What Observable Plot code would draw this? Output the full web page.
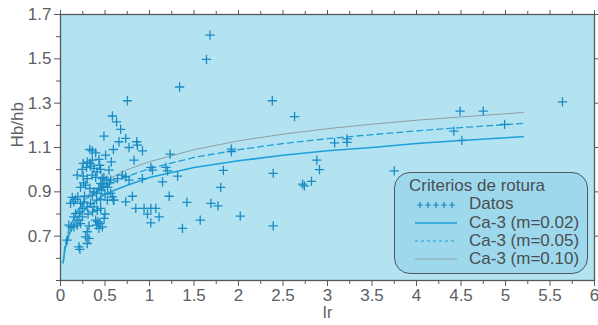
<!DOCTYPE html>
<html>
<head>
<meta charset="utf-8">
<script src="https://cdn.jsdelivr.net/npm/d3@7"></script>
<script src="https://cdn.jsdelivr.net/npm/@observablehq/plot@0.6"></script>
<style>
  html, body { margin: 0; padding: 0; background: #ffffff; }
  #wrap { position: relative; width: 598px; height: 325px; font-family: "Liberation Sans", Arial, sans-serif; }
  #legend {
    position: absolute; left: 394px; top: 172px; width: 194px; height: 102px;
    box-sizing: border-box; border: 1.3px solid #50595d; border-radius: 16px;
    background: #9dd8ec; color: #4a4f52; font-size: 17px; line-height: 18px;
  }
  #legend .title { position: absolute; left: 14px; top: 4px; }
  #legend .row { position: absolute; left: 74px; }
  #legend svg { position: absolute; left: 20px; }
</style>
</head>
<body>
<div id="wrap">
  <div id="chart"></div>
  <div id="legend">
    <div class="title">Criterios de rotura</div>
    <svg style="top:26px" width="44" height="12"><g stroke="#1a8cc4" stroke-width="1.2">
      <path d="M2,6h6M5,3v6M10,6h6M13,3v6M18,6h6M21,3v6M26,6h6M29,3v6M34,6h6M37,3v6"/></g></svg>
    <div class="row" style="top:22px">Datos</div>
    <svg style="top:44px" width="44" height="12"><line x1="0" x2="42" y1="6" y2="6" stroke="#1ea0d8" stroke-width="1.5"/></svg>
    <div class="row" style="top:41px">Ca-3 (m=0.02)</div>
    <svg style="top:62px" width="44" height="12"><line x1="0" x2="42" y1="6" y2="6" stroke="#1ea0d8" stroke-width="1.2" stroke-dasharray="3,3"/></svg>
    <div class="row" style="top:59px">Ca-3 (m=0.05)</div>
    <svg style="top:80px" width="44" height="12"><line x1="0" x2="42" y1="6" y2="6" stroke="#8f9ea4" stroke-width="1"/></svg>
    <div class="row" style="top:77px">Ca-3 (m=0.10)</div>
  </div>
</div>
<script>
// Tick values
const xTicks = [0, 0.5, 1, 1.5, 2, 2.5, 3, 3.5, 4, 4.5, 5, 5.5, 6];
const xMinorTicks = [0.25, 0.75, 1.25, 1.75, 2.25, 2.75, 3.25, 3.75, 4.25, 4.75, 5.25, 5.75];
const yTicks = [0.7, 0.9, 1.1, 1.3, 1.5, 1.7];
const yMinorTicks = [0.5, 0.6, 0.8, 1.0, 1.2, 1.4, 1.6];

// Curves Ca-3
const curveIr = [0.03, 0.05, 0.1, 0.2, 0.3, 0.5, 0.75, 1, 1.5, 2, 2.5, 3, 3.5, 4, 4.5, 5, 5.2];
const caM002 = [0.58, 0.64, 0.71, 0.79, 0.83, 0.89, 0.93, 0.965, 1.01, 1.04, 1.065, 1.085, 1.10, 1.118, 1.132, 1.144, 1.148];
const caM005 = [0.58, 0.66, 0.74, 0.82, 0.87, 0.925, 0.97, 1.005, 1.055, 1.09, 1.118, 1.14, 1.158, 1.175, 1.19, 1.203, 1.209];
const caM010 = [0.58, 0.65, 0.73, 0.82, 0.88, 0.95, 1.00, 1.036, 1.09, 1.13, 1.16, 1.185, 1.205, 1.223, 1.238, 1.252, 1.258];

// Datos (Ir, Hb/hb)
const datosIr = [1.68,1.64,1.338,0.752,2.38,2.63,5.64,4.49,4.75,4.42,4.51,4.99,3.08,3.22,3.22,2.88,2.91,2.72,2.74,2.82,
  2.39,2.39,3.75,1.92,1.92,1.83,1.80,1.42,1.69,1.77,1.57,2.02,1.37,1.232,1.316,1.184,1.203,1.146,1.221,1.108,1.015,0.977,
  0.846,0.939,1.015,1.071,0.808,0.733,1.015,1.034,0.826,0.921,0.857,0.864,0.77,0.733,0.657,0.594,0.583,0.63,0.676,0.488,
  0.695,0.733,0.564,0.64,0.77,0.92,0.571,0.594,
  0.33,0.357,0.395,0.507,0.432,0.256,0.30,0.33,0.357,0.244,0.293,0.338,0.376,0.451,0.545,
  0.188,0.256,0.30,0.357,0.395,0.488,0.519,0.451,0.47,0.47,0.488,0.432,0.462,
  0.225,0.282,0.33,0.376,0.406,0.357,0.564,0.583,0.526,0.451,0.406,0.60,
  0.132,0.169,0.195,0.15,0.113,0.225,0.263,0.30,0.244,0.338,0.376,0.413,0.451,
  0.169,0.218,0.244,0.15,0.395,0.42,0.443,0.406,0.47,0.432,0.207,0.225,0.188,0.15,
  0.094,0.12,0.32,0.30,0.282,0.32,0.30,0.075,0.207,0.218,
  0.53,0.50,0.55,0.27,0.31,0.36,0.49,0.50,0.26,0.41,0.44];
const datosHb = [1.607,1.498,1.373,1.311,1.311,1.239,1.306,1.264,1.264,1.174,1.132,1.204,1.121,1.139,1.123,1.043,1.0,0.935,0.927,0.947,
  0.983,0.746,0.995,1.093,1.082,0.997,0.92,0.852,0.848,0.837,0.772,0.79,0.735,1.07,0.971,1.01,0.995,0.945,0.88,0.787,0.76,0.799,
  0.825,0.825,0.825,0.825,0.88,0.855,1.01,0.998,1.043,1.085,1.126,1.111,1.10,1.141,1.126,1.091,1.242,1.216,1.182,1.151,
  0.975,0.968,0.953,0.96,0.953,0.96,1.035,0.863,
  1.091,1.085,1.076,1.066,1.046,1.028,1.035,1.028,1.043,1.001,1.01,1.016,1.006,1.001,0.998,
  0.975,0.971,0.96,0.975,0.965,0.965,0.953,0.938,0.96,0.935,0.923,0.915,0.908,
  0.92,0.93,0.915,0.9,0.893,0.885,0.893,0.877,0.863,0.866,0.863,0.863,
  0.875,0.866,0.877,0.855,0.848,0.848,0.855,0.832,0.825,0.848,0.832,0.817,0.825,
  0.802,0.81,0.787,0.787,0.772,0.765,0.757,0.75,0.742,0.735,0.772,0.757,0.75,0.742,
  0.75,0.742,0.746,0.72,0.697,0.69,0.667,0.682,0.652,0.64,
  0.92,0.89,0.94,0.88,0.80,0.81,0.78,0.80,0.94,0.99,1.02];

const points = datosIr.map((d, i) => ({ir: d, hb: datosHb[i]}));
const curves = curveIr.map((d, i) => ({ir: d, a: caM002[i], b: caM005[i], c: caM010[i]}));

const axisColor = "#55595b";
const textColor = "#5c6063";

const chart = Plot.plot({
  width: 598,
  height: 325,
  marginLeft: 60,
  marginRight: 4,
  marginTop: 14,
  marginBottom: 45,
  style: { fontFamily: "Liberation Sans, Arial, sans-serif", fontSize: "17px", color: textColor, background: "#ffffff" },
  x: { domain: [0, 6], label: null },
  y: { domain: [0.5, 1.7], label: null },
  marks: [
    Plot.frame({ fill: "#b3e2f1", stroke: "none" }),
    Plot.line(curves, { x: "ir", y: "c", stroke: "#8f9ea4", strokeWidth: 1 }),
    Plot.line(curves, { x: "ir", y: "b", stroke: "#1ea0d8", strokeWidth: 1.3, strokeDasharray: "6,4" }),
    Plot.line(curves, { x: "ir", y: "a", stroke: "#1ea0d8", strokeWidth: 1.5 }),
    Plot.dot(points, { x: "ir", y: "hb", symbol: "plus", r: 3.1, stroke: "#1a8cc4", strokeWidth: 1.3 }),
    Plot.frame({ stroke: axisColor, strokeWidth: 1.3 }),
    Plot.axisX({ anchor: "bottom", ticks: xTicks, tickSize: 6, tickPadding: 2, stroke: axisColor, fill: textColor, tickFormat: d => String(d), label: null }),
    Plot.axisX({ anchor: "bottom", ticks: xMinorTicks, tickSize: 4, tickFormat: () => "", stroke: axisColor, label: null }),
    Plot.axisX({ anchor: "top", ticks: xTicks, tickSize: 5, tickFormat: () => "", stroke: axisColor, label: null }),
    Plot.axisX({ anchor: "top", ticks: xMinorTicks, tickSize: 4, tickFormat: () => "", stroke: axisColor, label: null }),
    Plot.axisY({ anchor: "left", ticks: yTicks, tickSize: 6, tickPadding: 3, stroke: axisColor, fill: textColor, tickFormat: d => d.toFixed(1), label: null }),
    Plot.axisY({ anchor: "left", ticks: yMinorTicks, tickSize: 4, tickFormat: () => "", stroke: axisColor, label: null }),
    Plot.axisY({ anchor: "right", ticks: yTicks, tickSize: 6, tickFormat: () => "", stroke: axisColor, label: null }),
    Plot.text(["Ir"], { frameAnchor: "bottom", dy: 37, fill: textColor, fontSize: 16 }),
    Plot.text(["Hb/hb"], { frameAnchor: "left", dx: -43, rotate: -90, fill: textColor, fontSize: 17 })
  ]
});
document.getElementById("chart").appendChild(chart);
</script>
</body>
</html>
